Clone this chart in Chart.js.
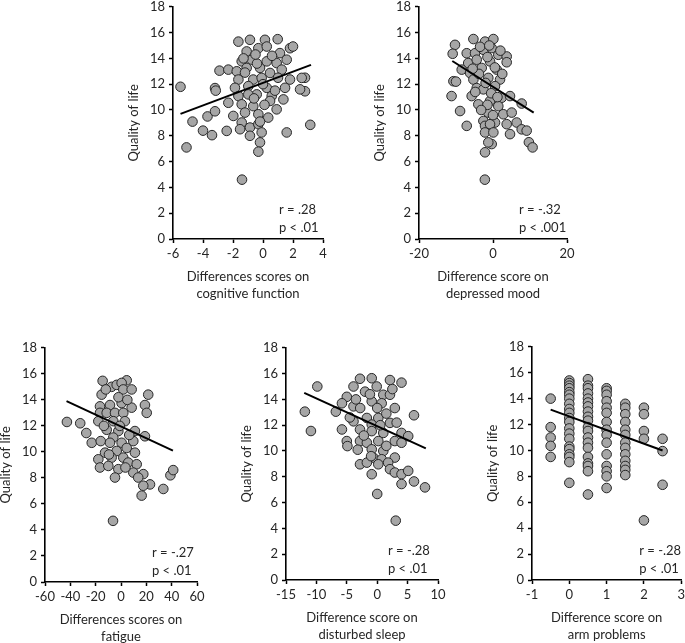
<!DOCTYPE html>
<html>
<head>
<meta charset="utf-8">
<script src="https://cdn.jsdelivr.net/npm/chart.js@4"></script>
<style>
  html, body { margin: 0; padding: 0; background: #fff; overflow: hidden; width: 685px; height: 643px; }
  .panel { position: absolute; }
</style>
</head>
<body>
<div class="panel" id="p1"><canvas id="c1"></canvas></div>
<div class="panel" id="p2"><canvas id="c2"></canvas></div>
<div class="panel" id="p3"><canvas id="c3"></canvas></div>
<div class="panel" id="p4"><canvas id="c4"></canvas></div>
<div class="panel" id="p5"><canvas id="c5"></canvas></div>
<script>
// quality of life axis, shared by every panel
const qolTicks = [0, 2, 4, 6, 8, 10, 12, 14, 16, 18];

// cognitive function
const cogTicks = [-6, -4, -2, 0, 2, 4];
const cogPoints = [
    [-5.5, 11.8], [-5.1, 7.1], [-4.7, 9.1], [-4.0, 8.4], [-3.4, 8.05], [-3.7, 9.5], [-3.2, 9.9],
    [-3.2, 11.7], [-3.15, 11.5], [-2.9, 13.05], [-1.4, 4.6], [2.8, 12.5], [2.8, 11.45], [3.15, 8.85],
    [-1.64, 15.3], [-0.87, 15.44], [0.13, 15.44], [0.98, 15.49], [-1.09, 14.54], [-0.31, 14.79],
    [0.25, 14.92], [1.13, 14.41], [1.8, 14.79], [2.0, 14.92], [-1.42, 13.77], [-0.75, 13.9],
    [0.25, 13.77], [0.91, 13.64], [1.58, 13.9], [-2.31, 13.13], [-1.75, 13.0], [-1.09, 13.26],
    [-0.2, 13.26], [0.47, 12.87], [1.25, 13.13], [-1.64, 12.36], [-0.65, 12.36], [-0.09, 12.49],
    [1.8, 12.36], [2.47, 11.6], [-1.87, 11.72], [-0.98, 11.85], [0.25, 11.72], [1.47, 11.72],
    [-1.64, 11.08], [-0.42, 11.21], [0.58, 11.08], [-2.31, 10.56], [-0.98, 11.21], [-1.42, 10.44],
    [-0.65, 10.3], [0.47, 10.7], [1.36, 10.82], [-0.31, 9.67], [0.35, 9.41], [0.91, 10.05],
    [-1.98, 9.54], [-1.42, 9.03], [-0.87, 8.64], [-1.53, 8.51], [-0.31, 8.9], [-0.87, 8.0],
    [-0.09, 8.26], [-0.2, 7.49], [-0.31, 6.77], [1.58, 8.26], [-2.42, 8.38], [2.58, 12.49],
    [-1.2, 12.9], [-0.4, 13.6], [0.6, 14.2], [-1.3, 14.0], [0.0, 12.0], [0.8, 11.5],
    [-0.6, 10.9], [0.1, 10.4], [-1.2, 9.8], [-0.5, 14.3], [1.0, 12.5], [-0.2, 9.1]
];
const cogFit = [[-5.5, 9.7], [3.2, 13.5]];

// depressed mood
const moodTicks = [-20, 0, 20];
const moodPoints = [
    [-10.27, 15.05], [-10.9, 14.36], [-5.3, 15.5], [-2.16, 15.3], [0.1, 15.5], [-7.1, 14.4],
    [-4.86, 14.4], [-2.6, 14.67], [-0.35, 14.8], [1.43, 14.28], [3.7, 14.15], [3.7, 13.7],
    [-6.7, 13.64], [-4.4, 13.9], [-3.05, 13.26], [-0.8, 13.77], [1.0, 13.13], [-8.46, 13.13],
    [-6.2, 12.87], [-5.3, 12.36], [-1.27, 12.49], [1.9, 12.36], [-10.7, 12.23], [-10.0, 12.2],
    [-11.2, 11.08], [-8.9, 9.92], [-7.1, 8.77], [-4.4, 11.7], [-2.6, 11.6], [0.54, 11.85],
    [-5.76, 11.08], [-3.97, 10.44], [-0.8, 10.7], [2.35, 10.95], [4.6, 11.08], [-1.27, 9.8],
    [1.43, 10.3], [2.78, 9.67], [5.05, 9.8], [6.4, 9.03], [-2.6, 9.15], [0.54, 9.03],
    [-2.16, 8.77], [-0.8, 8.9], [3.7, 8.9], [-2.16, 8.26], [0.1, 8.26], [4.6, 8.13],
    [-0.35, 7.36], [-1.27, 7.49], [-2.16, 6.72], [-2.2, 4.6], [7.75, 10.5], [7.75, 8.5],
    [9.1, 8.4], [9.7, 7.5], [10.7, 7.1], [-3.5, 14.9], [-1.5, 14.1], [0.5, 13.3],
    [-3.8, 12.8], [-2.0, 12.1], [-0.5, 11.3], [1.2, 11.0], [-4.8, 11.4], [-1.5, 10.4],
    [2.5, 12.8], [-3.2, 10.0], [0.0, 9.6], [-1.0, 15.0], [2.0, 14.6], [-5.5, 13.2]
];
const moodFit = [[-11, 13.8], [11, 9.8]];

// fatigue
const fatigueTicks = [-60, -40, -20, 0, 20, 40, 60];
const fatiguePoints = [
    [-42.7, 12.3], [-32.2, 12.2], [-27.4, 11.45], [-6.3, 4.7], [39, 8.2], [41.2, 8.6],
    [-14.5, 15.46], [-7.4, 15.0], [-3.4, 15.15], [4.5, 15.5], [0.5, 15.3], [1.8, 14.8],
    [8.4, 14.8], [21.5, 14.4], [-15.3, 14.4], [-16.6, 13.5], [-8.7, 13.6], [0.5, 13.75],
    [8.4, 13.4], [18.9, 13.6], [20.3, 13.0], [-16.6, 13.0], [-11.3, 13.0], [-4.75, 13.0],
    [1.8, 13.0], [-17.9, 12.36], [-6.1, 12.36], [3.1, 12.36], [-11.3, 11.7], [-2.1, 11.6],
    [11, 11.6], [18.9, 11.2], [-23.1, 10.7], [-16, 10.83], [-6.1, 11.1], [-8.7, 10.7],
    [0.5, 10.7], [9.7, 10.83], [-12.6, 9.94], [-3.4, 10.07], [4.5, 10.3], [11, 9.94],
    [-17.9, 9.43], [-7.4, 9.56], [1.8, 9.56], [-16.6, 8.8], [-10, 8.92], [-2.1, 8.67],
    [5.7, 9.18], [12.4, 9.05], [-4.75, 8.03], [9.7, 8.41], [17.6, 8.29], [13.6, 8.03],
    [22.9, 7.5], [17.6, 7.4], [16.3, 6.64], [33.4, 7.15], [-12.0, 14.8], [-2.0, 14.2],
    [5.0, 14.0], [-13.5, 12.0], [-1.0, 12.0], [6.5, 11.3], [-9.5, 9.8], [3.5, 8.8]
];
const fatigueFit = [[-43, 13.9], [41, 10.1]];

// disturbed sleep
const sleepTicks = [-15, -10, -5, 0, 5, 10];
const sleepPoints = [
    [-11.9, 13.05], [-10.9, 11.55], [-9.85, 15.0], [-6.8, 13.05], [3.05, 4.6],
    [-2.83, 15.6], [-0.9, 15.64], [2.1, 15.5], [4.0, 15.3], [-3.9, 15.0], [-2.0, 14.6],
    [-0.08, 15.0], [1.0, 14.36], [2.1, 14.36], [-5.0, 14.2], [-5.8, 13.7], [-0.9, 13.85],
    [0.74, 13.7], [2.9, 13.33], [-3.9, 13.46], [-2.8, 13.33], [0.0, 13.33], [6.05, 12.77],
    [-3.9, 12.3], [-1.7, 12.56], [0.18, 12.56], [2.1, 12.18], [-0.9, 12.05], [-5.8, 11.67],
    [-2.83, 11.67], [-0.9, 11.54], [1.0, 11.4], [4.0, 11.4], [5.1, 11.15], [-5.0, 10.77],
    [-4.9, 10.38], [-2.83, 10.77], [-1.7, 10.64], [0.18, 10.77], [2.9, 10.77], [4.0, 10.64],
    [-0.9, 10.13], [1.0, 10.0], [-0.64, 9.49], [0.74, 9.36], [2.9, 9.49], [-2.83, 8.97],
    [-1.7, 9.1], [0.18, 8.97], [1.8, 9.1], [2.1, 8.59], [-0.9, 8.2], [2.9, 8.33],
    [4.0, 8.2], [5.1, 8.46], [4.0, 7.44], [6.05, 7.64], [7.86, 7.18], [0.0, 6.67],
    [-3.5, 14.0], [-1.2, 14.4], [1.5, 12.9], [-2.2, 11.2], [0.5, 12.0], [-3.2, 10.1],
    [1.5, 10.4], [-1.0, 9.6], [3.2, 12.2], [-4.5, 12.6], [2.5, 14.8]
];
const sleepFit = [[-12, 14.5], [8, 10.2]];

// arm problems
const armTicks = [-1, 0, 1, 2, 3];
const armPoints = [
    [-0.5, 14.0], [-0.5, 11.8], [-0.5, 11.0], [-0.5, 10.35], [-0.5, 9.5],
    [0, 15.4], [0, 15.2], [0, 15.0], [0, 14.8], [0, 14.5], [0, 14.3], [0, 14.0],
    [0, 13.6], [0, 13.2], [0, 12.9], [0, 12.5], [0, 12.2], [0, 11.7], [0, 11.3],
    [0, 10.9], [0, 10.3], [0, 10.1], [0, 9.7], [0, 9.5], [0, 9.1], [0, 7.5],
    [0.5, 15.5], [0.5, 15.0], [0.5, 14.8], [0.5, 14.4], [0.5, 14.0], [0.5, 13.7],
    [0.5, 13.4], [0.5, 13.0], [0.5, 12.6], [0.5, 12.3], [0.5, 11.8], [0.5, 11.5],
    [0.5, 11.0], [0.5, 10.6], [0.5, 10.2], [0.5, 9.5], [0.5, 9.0], [0.5, 8.8],
    [0.5, 8.4], [0.5, 6.6],
    [1, 14.8], [1, 14.6], [1, 14.3], [1, 13.8], [1, 13.3], [1, 12.9], [1, 12.2],
    [1, 11.6], [1, 11.2], [1, 10.6], [1, 9.7], [1, 8.8], [1, 8.4], [1, 8.0], [1, 7.1],
    [1.5, 13.6], [1.5, 13.3], [1.5, 12.8], [1.5, 12.2], [1.5, 11.6], [1.5, 11.2],
    [1.5, 10.6], [1.5, 10.2], [1.5, 9.7], [1.5, 9.2], [1.5, 8.8], [1.5, 8.5], [1.5, 8.1],
    [2, 13.3], [2, 12.8], [2, 11.5], [2, 10.9], [2, 4.6],
    [2.5, 10.9], [2.5, 9.95], [2.5, 7.35]
];
const armFit = [[-0.5, 13.15], [2.5, 10.0]];

const FONT = 'Lato, "Open Sans", sans-serif';
const TEXT = '#262626';

// r / p text inside lower right corner of the plot
const statsPlugin = {
    id: 'stats',
    afterDraw(chart, args, opts) {
        const ctx = chart.ctx;
        const a = chart.chartArea;
        ctx.save();
        ctx.font = '13px ' + FONT;
        ctx.fillStyle = TEXT;
        ctx.textAlign = 'left';
        ctx.textBaseline = 'middle';
        ctx.fillText(opts.lines[0], a.right - opts.dx, a.bottom - 29);
        ctx.fillText(opts.lines[1], a.right - opts.dx, a.bottom - 11);
        ctx.restore();
    }
};

function makeChart(id, panelId, box, points, fit, xTicks, xTitle, stats) {
    const yW = 50, xH = 70, padTop = 10, padRight = box.padRight || 12;
    const w = box.right - box.left, h = box.bottom - box.top;
    const panel = document.getElementById(panelId);
    panel.style.left = (box.left - yW) + 'px';
    panel.style.top = (box.top - padTop) + 'px';
    const canvas = document.getElementById(id);
    canvas.width = yW + w + padRight;
    canvas.height = padTop + h + xH;

    const ticksFrom = arr => scale => { scale.ticks = arr.map(v => ({ value: v })); };

    return new Chart(canvas.getContext('2d'), {
        type: 'scatter',
        data: {
            datasets: [{
                type: 'line',
                data: fit.map(p => ({ x: p[0], y: p[1] })),
                borderColor: '#000',
                borderWidth: 2,
                pointRadius: 0,
                fill: false,
                order: 0
            }, {
                data: points.map(p => ({ x: p[0], y: p[1] })),
                backgroundColor: '#a6a6a6',
                borderColor: '#262626',
                borderWidth: 1,
                pointRadius: 4.8,
                order: 1
            }]
        },
        options: {
            responsive: false,
            animation: false,
            layout: { padding: { top: padTop, right: padRight, left: 0, bottom: 0 } },
            plugins: {
                legend: { display: false },
                tooltip: { enabled: false },
                stats: stats
            },
            scales: {
                x: {
                    type: 'linear',
                    min: xTicks[0],
                    max: xTicks[xTicks.length - 1],
                    afterBuildTicks: ticksFrom(xTicks),
                    afterFit: s => { s.height = xH; },
                    border: { display: true, color: '#000', width: 1.6 },
                    grid: { display: true, drawOnChartArea: false, drawTicks: true, tickLength: 4, tickColor: '#000', tickWidth: 1.5 },
                    ticks: { color: TEXT, font: { family: FONT, size: 13 }, padding: 3, maxRotation: 0, autoSkip: false },
                    title: {
                        display: true,
                        text: xTitle,
                        color: TEXT,
                        font: { family: FONT, size: 13, lineHeight: 1.3 },
                        padding: { top: 0, bottom: 7 }
                    }
                },
                y: {
                    type: 'linear',
                    min: 0,
                    max: 18,
                    afterBuildTicks: ticksFrom(qolTicks),
                    afterFit: s => { s.width = yW; },
                    border: { display: true, color: '#000', width: 1.6 },
                    grid: { display: true, drawOnChartArea: false, drawTicks: true, tickLength: 4, tickColor: '#000', tickWidth: 1.5 },
                    ticks: { color: TEXT, font: { family: FONT, size: 13 }, padding: 4, autoSkip: false },
                    title: {
                        display: true,
                        text: 'Quality of life',
                        color: TEXT,
                        font: { family: FONT, size: 13 },
                        padding: { top: 3, bottom: 0 }
                    }
                }
            }
        },
        plugins: [statsPlugin]
    });
}

makeChart('c1', 'p1', { left: 173, top: 5, right: 323, bottom: 239 }, cogPoints, cogFit, cogTicks,
    ['Differences scores on', 'cognitive function'], { lines: ['r = .28', 'p < .01'], dx: 44 });
makeChart('c2', 'p2', { left: 419, top: 5, right: 567, bottom: 239 }, moodPoints, moodFit, moodTicks,
    ['Difference score on', 'depressed mood'], { lines: ['r = -.32', 'p < .001'], dx: 48 });
makeChart('c3', 'p3', { left: 45, top: 346, right: 197, bottom: 582 }, fatiguePoints, fatigueFit, fatigueTicks,
    ['Differences scores on', 'fatigue'], { lines: ['r = -.27', 'p < .01'], dx: 45 });
makeChart('c4', 'p4', { left: 286, top: 346, right: 438, bottom: 580 }, sleepPoints, sleepFit, sleepTicks,
    ['Difference score on', 'disturbed sleep'], { lines: ['r = -.28', 'p < .01'], dx: 50 });
makeChart('c5', 'p5', { left: 532, top: 345, right: 682, bottom: 580, padRight: 6 }, armPoints, armFit, armTicks,
    ['Difference score on', 'arm problems'], { lines: ['r = -.28', 'p < .01'], dx: 42 });
</script>
</body>
</html>
